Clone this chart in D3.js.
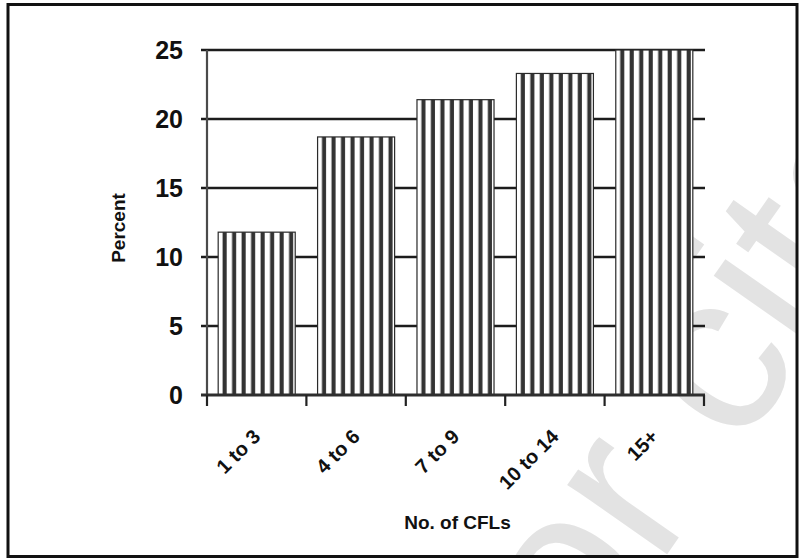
<!DOCTYPE html>
<html>
<head>
<meta charset="utf-8">
<script src="https://cdn.jsdelivr.net/npm/d3@7/dist/d3.min.js"></script>
<style>
  html, body { margin: 0; padding: 0; background: #fff; }
  svg { display: block; }
  text { font-family: "Liberation Sans", Arial, sans-serif; }
</style>
</head>
<body>
<svg id="chart" width="799" height="558"></svg>
<script>
// Share of households by number of compact fluorescent lamps owned
const categories = ["1 to 3", "4 to 6", "7 to 9", "10 to 14", "15+"];
const percents = [11.8, 18.7, 21.4, 23.3, 25.0];
const yTicks = [0, 5, 10, 15, 20, 25];
const yTitle = "Percent";
const xTitle = "No. of CFLs";
const watermark = "Not for citation";

const W = 799, H = 558;
const svg = d3.select("#chart");

const plot = { left: 207, right: 704, top: 50, bottom: 395 };

const x = d3.scaleBand()
  .domain(categories)
  .range([plot.left, plot.right])
  .paddingInner(0.225)
  .paddingOuter(0.1125);

const y = d3.scaleLinear().domain([0, 25]).range([plot.bottom, plot.top]);

// faint diagonal watermark behind the chart
svg.append("defs").append("clipPath").attr("id", "frameClip")
  .append("rect").attr("x", 8).attr("y", 4.5).attr("width", 789).attr("height", 552);

svg.append("g").attr("clip-path", "url(#frameClip)")
  .append("text")
  .attr("transform", "translate(306,1070) rotate(-55)")
  .attr("font-size", 230)
  .attr("fill", "#e3e3e3")
  .text(watermark);

// horizontal gridlines (with the small ticks to the left of the axis)
svg.append("g")
  .selectAll("line")
  .data(yTicks.filter(d => d > 0))
  .join("line")
  .attr("x1", plot.left - 6)
  .attr("x2", plot.right + 1)
  .attr("y1", d => y(d))
  .attr("y2", d => y(d))
  .attr("stroke", "#1c1c1c")
  .attr("stroke-width", 2.6);

// vertical stripe fill, one pattern per bar so stripes start at the bar edge
const defs = svg.select("defs");
const period = 9.5;
categories.forEach((c, i) => {
  const p = defs.append("pattern")
    .attr("id", "stripes" + i)
    .attr("patternUnits", "userSpaceOnUse")
    .attr("x", x(c))
    .attr("y", 0)
    .attr("width", period)
    .attr("height", 10);
  p.append("rect").attr("width", period).attr("height", 10).attr("fill", "#fff");
  p.append("rect").attr("x", 4.4).attr("width", 4.1).attr("height", 10).attr("fill", "#333");
});

svg.append("g")
  .selectAll("rect")
  .data(categories.map((c, i) => ({ c, v: percents[i], i })))
  .join("rect")
  .attr("x", d => x(d.c))
  .attr("y", d => y(d.v))
  .attr("width", x.bandwidth())
  .attr("height", d => y(0) - y(d.v))
  .attr("fill", d => `url(#stripes${d.i})`)
  .attr("stroke", "#2a2a2a")
  .attr("stroke-width", 1.2);

// y axis line
svg.append("line")
  .attr("x1", plot.left).attr("x2", plot.left)
  .attr("y1", y(25)).attr("y2", y(0))
  .attr("stroke", "#4a4a4a").attr("stroke-width", 2.2);

// x axis baseline
svg.append("line")
  .attr("x1", plot.left - 6).attr("x2", plot.right + 1)
  .attr("y1", y(0)).attr("y2", y(0))
  .attr("stroke", "#2e2e2e").attr("stroke-width", 3);

// category boundary ticks below the axis
const step = x.step();
svg.append("g")
  .selectAll("line")
  .data(d3.range(categories.length + 1))
  .join("line")
  .attr("x1", i => plot.left + i * step)
  .attr("x2", i => plot.left + i * step)
  .attr("y1", y(0))
  .attr("y2", y(0) + 11)
  .attr("stroke", "#222")
  .attr("stroke-width", 2.2);

// y tick labels
svg.append("g")
  .selectAll("text")
  .data(yTicks)
  .join("text")
  .attr("x", 183)
  .attr("y", d => y(d))
  .attr("dy", "0.37em")
  .attr("text-anchor", "end")
  .attr("font-size", 25)
  .attr("font-weight", "bold")
  .attr("fill", "#111")
  .text(d => d);

// rotated category labels
svg.append("g")
  .selectAll("text")
  .data(categories)
  .join("text")
  .attr("transform", c => `translate(${x(c) + x.bandwidth() / 2 + 5},438) rotate(-45)`)
  .attr("text-anchor", "end")
  .attr("font-size", 20)
  .attr("font-weight", "bold")
  .attr("fill", "#111")
  .text(c => c);

// axis titles
svg.append("text")
  .attr("transform", "translate(125,228) rotate(-90)")
  .attr("text-anchor", "middle")
  .attr("font-size", 19)
  .attr("font-weight", "bold")
  .attr("fill", "#111")
  .text(yTitle);

svg.append("text")
  .attr("x", (plot.left + plot.right) / 2 + 2)
  .attr("y", 529)
  .attr("text-anchor", "middle")
  .attr("font-size", 19)
  .attr("font-weight", "bold")
  .attr("fill", "#111")
  .text(xTitle);

// outer frame
svg.append("rect")
  .attr("x", 8).attr("y", 4.5)
  .attr("width", 789).attr("height", 552)
  .attr("fill", "none")
  .attr("stroke", "#111")
  .attr("stroke-width", 3);
</script>
</body>
</html>
